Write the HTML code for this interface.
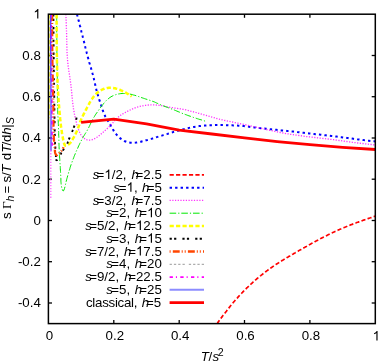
<!DOCTYPE html>
<html><head><meta charset="utf-8"><title>plot</title>
<style>html,body{margin:0;padding:0;background:#fff;}body{width:390px;height:364px;overflow:hidden;font-family:"Liberation Sans",sans-serif;}</style></head>
<body>
<svg width="390" height="364" viewBox="0 0 390 364" style="display:block;will-change:transform">
<rect width="390" height="364" fill="#fff"/>
<clipPath id="c"><rect x="48.4" y="14.2" width="326.90000000000003" height="309.40000000000003"/></clipPath>
<g stroke="#000" stroke-width="1.3">
<line x1="113.8" y1="323.6" x2="113.8" y2="320.0"/>
<line x1="113.8" y1="14.2" x2="113.8" y2="17.8"/>
<line x1="179.2" y1="323.6" x2="179.2" y2="320.0"/>
<line x1="179.2" y1="14.2" x2="179.2" y2="17.8"/>
<line x1="244.5" y1="323.6" x2="244.5" y2="320.0"/>
<line x1="244.5" y1="14.2" x2="244.5" y2="17.8"/>
<line x1="309.9" y1="323.6" x2="309.9" y2="320.0"/>
<line x1="309.9" y1="14.2" x2="309.9" y2="17.8"/>
<line x1="48.4" y1="303.0" x2="52.0" y2="303.0"/>
<line x1="375.3" y1="303.0" x2="371.7" y2="303.0"/>
<line x1="48.4" y1="261.7" x2="52.0" y2="261.7"/>
<line x1="375.3" y1="261.7" x2="371.7" y2="261.7"/>
<line x1="48.4" y1="220.5" x2="52.0" y2="220.5"/>
<line x1="375.3" y1="220.5" x2="371.7" y2="220.5"/>
<line x1="48.4" y1="179.2" x2="52.0" y2="179.2"/>
<line x1="375.3" y1="179.2" x2="371.7" y2="179.2"/>
<line x1="48.4" y1="138.0" x2="52.0" y2="138.0"/>
<line x1="375.3" y1="138.0" x2="371.7" y2="138.0"/>
<line x1="48.4" y1="96.7" x2="52.0" y2="96.7"/>
<line x1="375.3" y1="96.7" x2="371.7" y2="96.7"/>
<line x1="48.4" y1="55.5" x2="52.0" y2="55.5"/>
<line x1="375.3" y1="55.5" x2="371.7" y2="55.5"/>
</g>
<g clip-path="url(#c)" fill="none" stroke-linecap="butt" stroke-linejoin="round">
<path d="M217.0,323.7 L217.4,323.2 L217.8,322.6 L218.2,322.1 L218.5,321.6 L218.9,321.1 L219.3,320.5 L219.7,320.0 L220.1,319.5 L220.5,319.0 L220.9,318.4 L221.3,317.9 L221.6,317.4 L222.0,316.9 L222.4,316.4 L222.8,315.8 L223.2,315.3 L223.6,314.8 L224.0,314.3 L224.4,313.7 L224.8,313.2 L225.2,312.7 L225.6,312.2 L226.0,311.7 L226.4,311.2 L226.8,310.6 L227.2,310.1 L227.6,309.6 L228.0,309.1 L228.4,308.6 L228.8,308.1 L229.2,307.6 L229.6,307.1 L230.0,306.5 L230.4,306.0 L230.8,305.5 L231.2,305.0 L231.6,304.5 L232.1,304.0 L232.5,303.5 L232.9,303.0 L233.3,302.5 L233.7,302.0 L234.1,301.5 L234.6,301.0 L235.0,300.5 L235.4,300.0 L235.9,299.6 L236.3,299.1 L236.7,298.6 L237.2,298.1 L237.6,297.6 L238.0,297.1 L238.5,296.6 L238.9,296.2 L239.3,295.7 L239.8,295.2 L240.2,294.7 L240.7,294.2 L241.1,293.8 L241.6,293.3 L242.0,292.8 L242.5,292.4 L242.9,291.9 L243.4,291.4 L243.8,291.0 L244.3,290.5 L244.8,290.0 L245.2,289.6 L245.7,289.1 L246.2,288.6 L246.6,288.2 L247.1,287.7 L247.6,287.3 L248.0,286.8 L248.5,286.4 L249.0,285.9 L249.4,285.5 L249.9,285.0 L250.4,284.6 L250.9,284.1 L251.4,283.7 L251.8,283.3 L252.3,282.8 L252.8,282.4 L253.3,281.9 L253.8,281.5 L254.3,281.1 L254.8,280.7 L255.3,280.2 L255.7,279.8 L256.2,279.4 L256.7,278.9 L257.2,278.5 L257.7,278.1 L258.2,277.7 L258.7,277.3 L259.2,276.8 L259.7,276.4 L260.2,276.0 L260.8,275.6 L261.3,275.2 L261.8,274.8 L262.3,274.4 L262.8,274.0 L263.3,273.6 L263.8,273.2 L264.3,272.8 L264.9,272.4 L265.4,272.0 L265.9,271.6 L266.4,271.2 L266.9,270.8 L267.5,270.4 L268.0,270.0 L268.5,269.6 L269.0,269.3 L269.6,268.9 L270.1,268.5 L270.6,268.1 L271.2,267.7 L271.7,267.4 L272.2,267.0 L272.8,266.6 L273.3,266.3 L273.9,265.9 L274.4,265.5 L274.9,265.2 L275.5,264.8 L276.0,264.4 L276.6,264.1 L277.1,263.7 L277.7,263.4 L278.2,263.0 L278.7,262.7 L279.3,262.3 L279.8,262.0 L280.4,261.6 L280.9,261.3 L281.5,260.9 L282.1,260.6 L282.6,260.2 L283.2,259.9 L283.7,259.5 L284.3,259.2 L284.8,258.9 L285.4,258.5 L285.9,258.2 L286.5,257.9 L287.1,257.5 L287.6,257.2 L288.2,256.9 L288.7,256.5 L289.3,256.2 L289.9,255.9 L290.4,255.5 L291.0,255.2 L291.6,254.9 L292.1,254.5 L292.7,254.2 L293.3,253.9 L293.8,253.6 L294.4,253.2 L295.0,252.9 L295.5,252.6 L296.1,252.3 L296.6,251.9 L297.2,251.6 L297.8,251.3 L298.3,251.0 L298.9,250.6 L299.5,250.3 L300.0,250.0 L300.6,249.7 L301.2,249.4 L301.7,249.0 L302.3,248.7 L302.9,248.4 L303.5,248.1 L304.0,247.7 L304.6,247.4 L305.2,247.1 L305.7,246.8 L306.3,246.5 L306.9,246.1 L307.4,245.8 L308.0,245.5 L308.6,245.2 L309.1,244.9 L309.7,244.5 L310.3,244.2 L310.8,243.9 L311.4,243.6 L312.0,243.3 L312.6,243.0 L313.1,242.7 L313.7,242.3 L314.3,242.0 L314.8,241.7 L315.4,241.4 L316.0,241.1 L316.6,240.8 L317.1,240.5 L317.7,240.2 L318.3,239.9 L318.9,239.6 L319.4,239.2 L320.0,238.9 L320.6,238.6 L321.2,238.3 L321.7,238.0 L322.3,237.7 L322.9,237.4 L323.5,237.1 L324.1,236.8 L324.6,236.5 L325.2,236.3 L325.8,236.0 L326.4,235.7 L327.0,235.4 L327.6,235.1 L328.1,234.8 L328.7,234.5 L329.3,234.2 L329.9,233.9 L330.5,233.7 L331.1,233.4 L331.7,233.1 L332.3,232.8 L332.8,232.5 L333.4,232.3 L334.0,232.0 L334.6,231.7 L335.2,231.4 L335.8,231.2 L336.4,230.9 L337.0,230.6 L337.6,230.4 L338.2,230.1 L338.8,229.8 L339.4,229.6 L340.0,229.3 L340.6,229.0 L341.2,228.8 L341.8,228.5 L342.4,228.3 L343.0,228.0 L343.6,227.8 L344.2,227.5 L344.8,227.3 L345.4,227.0 L346.0,226.8 L346.6,226.5 L347.2,226.3 L347.8,226.0 L348.4,225.8 L349.0,225.6 L349.6,225.3 L350.2,225.1 L350.8,224.8 L351.4,224.6 L352.0,224.4 L352.7,224.1 L353.3,223.9 L353.9,223.7 L354.5,223.5 L355.1,223.2 L355.7,223.0 L356.3,222.8 L356.9,222.5 L357.5,222.3 L358.2,222.1 L358.8,221.9 L359.4,221.7 L360.0,221.4 L360.6,221.2 L361.2,221.0 L361.8,220.8 L362.4,220.6 L363.1,220.3 L363.7,220.1 L364.3,219.9 L364.9,219.7 L365.5,219.5 L366.1,219.3 L366.8,219.1 L367.4,218.8 L368.0,218.6 L368.6,218.4 L369.2,218.2 L369.8,218.0 L370.5,217.8 L371.1,217.6 L371.7,217.4 L372.3,217.2 L372.9,216.9 L373.5,216.7 L374.2,216.5 L374.8,216.3 L375.4,216.1" stroke="#ff0000" stroke-width="1.7" stroke-dasharray="4.2 2.25"/>
<path d="M49.6,14.2 L49.6,14.5 L49.6,14.9 L49.6,15.2 L49.6,15.6 L49.6,15.9 L49.6,16.3 L49.6,16.6 L49.6,17.0 L49.6,17.3 L49.6,17.7 L49.6,18.0 L49.6,18.4 L49.6,18.7 L49.6,19.1 L49.6,19.4 L49.6,19.8 L49.6,20.1 L49.6,20.5 L49.6,20.8 L49.6,21.2 L49.6,21.5 L49.6,21.9 L49.6,22.2 L49.6,22.5 L49.6,22.9 L49.6,23.2 L49.6,23.6 L49.6,23.9 L49.6,24.3 L49.6,24.6 L49.6,25.0 L49.6,25.3 L49.6,25.7 L49.6,26.0 L49.6,26.4 L49.6,26.7 L49.6,27.1 L49.6,27.4 L49.6,27.8 L49.6,28.1 L49.6,28.5 L49.6,28.8 L49.6,29.2 L49.6,29.5 L49.6,29.9 L49.6,30.2 L49.6,30.5 L49.6,30.9 L49.6,31.2 L49.6,31.6 L49.6,31.9 L49.6,32.3 L49.6,32.6 L49.6,33.0 L49.6,33.3 L49.6,33.7 L49.6,34.0 L49.6,34.4 L49.6,34.7 L49.6,35.1 L49.6,35.4 L49.6,35.8 L49.6,36.1 L49.6,36.5 L49.6,36.8 L49.6,37.2 L49.6,37.5 L49.6,37.9 L49.6,38.2 L49.6,38.5 L49.6,38.9 L49.6,39.2 L49.6,39.6 L49.6,39.9 L49.6,40.3 L49.6,40.6 L49.6,41.0 L49.6,41.3 L49.6,41.7 L49.6,42.0 L49.6,42.4 L49.6,42.7 L49.6,43.1 L49.6,43.4 L49.6,43.8 L49.6,44.1 L49.6,44.5 L49.6,44.8 L49.6,45.2 L49.6,45.5 L49.6,45.9 L49.6,46.2 L49.6,46.5 L49.6,46.9 L49.6,47.2 L49.6,47.6 L49.6,47.9 L49.6,48.3 L49.6,48.6 L49.6,49.0 L49.6,49.3 L49.6,49.7 L49.6,50.0 L49.6,50.4 L49.6,50.7 L49.6,51.1 L49.6,51.4 L49.6,51.8 L49.6,52.1 L49.6,52.5 L49.6,52.8 L49.6,53.2 L49.6,53.5 L49.6,53.9 L49.6,54.2 L49.6,54.5 L49.6,54.9 L49.6,55.2 L49.6,55.6 L49.6,55.9 L49.6,56.3 L49.6,56.6 L49.6,57.0 L49.6,57.3 L49.6,57.7 L49.6,58.0 L49.6,58.4 L49.6,58.7 L49.6,59.1 L49.6,59.4 L49.6,59.8 L49.6,60.1 L49.6,60.5 L49.6,60.8 L49.6,61.2 L49.6,61.5 L49.6,61.9 L49.6,62.2 L49.6,62.5 L49.6,62.9 L49.6,63.2 L49.6,63.6 L49.6,63.9 L49.6,64.3 L49.6,64.6 L49.6,65.0 L49.6,65.3 L49.6,65.7 L49.6,66.0 L49.6,66.4 L49.6,66.7 L49.6,67.1 L49.6,67.4 L49.6,67.8 L49.6,68.1 L49.6,68.5 L49.6,68.8 L49.6,69.2 L49.6,69.5 L49.6,69.9 L49.6,70.2 L49.6,70.5 L49.6,70.9 L49.6,71.2 L49.6,71.6 L49.6,71.9 L49.6,72.3 L49.6,72.6 L49.6,73.0 L49.6,73.3 L49.6,73.7 L49.6,74.0 L49.6,74.4 L49.6,74.7 L49.6,75.1 L49.6,75.4 L49.6,75.8 L49.6,76.1 L49.6,76.5 L49.6,76.8 L49.6,77.2 L49.6,77.5 L49.6,77.9 L49.6,78.2 L49.6,78.5 L49.6,78.9 L49.6,79.2 L49.6,79.6 L49.6,79.9 L49.6,80.3 L49.6,80.6 L49.6,81.0 L49.6,81.3 L49.6,81.7 L49.6,82.0 L49.6,82.4 L49.6,82.7 L49.6,83.1 L49.6,83.4 L49.6,83.8 L49.6,84.1 L49.6,84.5 L49.6,84.8 L49.6,85.2 L49.6,85.5 L49.6,85.9 L49.6,86.2 L49.6,86.5 L49.6,86.9 L49.6,87.2 L49.6,87.6 L49.6,87.9 L49.6,88.3 L49.6,88.6 L49.6,89.0 L49.6,89.3 L49.6,89.7 L49.6,90.0 L49.6,90.4 L49.6,90.7 L49.6,91.1 L49.6,91.4 L49.6,91.8 L49.6,92.1 L49.6,92.5 L49.6,92.8 L49.6,93.2 L49.6,93.5 L49.6,93.9 L49.6,94.2 L49.6,94.5 L49.6,94.9 L49.6,95.2 L49.6,95.6 L49.6,95.9 L49.6,96.3 L49.6,96.6 L49.6,97.0 L49.6,97.3 L49.6,97.7 L49.6,98.0 L49.6,98.4 L49.6,98.7 L49.6,99.1 L49.6,99.4 L49.6,99.8 L49.6,100.1 L49.6,100.5 L49.6,100.8 L49.6,101.2 L49.6,101.5 L49.6,101.9 L49.6,102.2 L49.6,102.5 L49.6,102.9 L49.6,103.2 L49.6,103.6 L49.6,103.9 L49.6,104.3 L49.6,104.6 L49.6,105.0 L49.6,105.3 L49.6,105.7 L49.6,106.0 L49.6,106.4 L49.6,106.7 L49.6,107.1 L49.6,107.4 L49.6,107.8 L49.6,108.1 L49.6,108.5 L49.6,108.8 L49.6,109.2 L49.6,109.5 L49.6,109.9 L49.6,110.2 L49.6,110.5 L49.6,110.9 L49.6,111.2 L49.6,111.6 L49.6,111.9 L49.6,112.3 L49.6,112.6 L49.6,113.0 L49.6,113.3 L49.6,113.7 L49.6,114.0 L49.6,114.4 L49.6,114.7 L49.6,115.1 L49.6,115.4 L49.6,115.8 L49.6,116.1 L49.6,116.5 L49.6,116.8 L49.6,117.2 L49.6,117.5 L49.6,117.9 L49.6,118.2" stroke="#ffff00" stroke-width="1.0" stroke-dasharray="4.2 2.25"/>
<path d="M77.0,14.2 L77.3,15.5 L77.7,16.7 L78.0,18.0 L78.3,19.3 L78.6,20.6 L79.0,21.8 L79.3,23.1 L79.6,24.4 L79.9,25.6 L80.3,26.9 L80.6,28.2 L80.9,29.4 L81.2,30.7 L81.5,32.0 L81.9,33.3 L82.2,34.5 L82.5,35.8 L82.8,37.1 L83.1,38.4 L83.4,39.6 L83.8,40.9 L84.1,42.2 L84.4,43.4 L84.7,44.7 L85.0,46.0 L85.3,47.3 L85.7,48.5 L86.0,49.8 L86.3,51.1 L86.6,52.4 L86.9,53.6 L87.3,54.9 L87.6,56.2 L87.9,57.4 L88.3,58.7 L88.6,60.0 L89.0,61.2 L89.3,62.5 L89.7,63.7 L90.1,65.0 L90.4,66.3 L90.8,67.5 L91.2,68.8 L91.5,70.0 L91.9,71.3 L92.3,72.6 L92.6,73.8 L93.0,75.1 L93.3,76.4 L93.6,77.6 L93.9,78.9 L94.2,80.2 L94.5,81.5 L94.8,82.7 L95.1,84.0 L95.3,85.3 L95.6,86.6 L95.9,87.9 L96.2,89.1 L96.5,90.4 L96.9,91.7 L97.2,92.9 L97.6,94.2 L98.0,95.5 L98.3,96.7 L98.7,98.0 L99.1,99.2 L99.5,100.5 L100.0,101.7 L100.4,103.0 L100.8,104.2 L101.2,105.5 L101.6,106.7 L102.0,108.0 L102.4,109.2 L102.8,110.5 L103.3,111.7 L103.8,112.9 L104.3,114.1 L104.8,115.3 L105.3,116.5 L105.9,117.7 L106.6,118.8 L107.3,119.9 L108.0,121.0 L108.7,122.1 L109.4,123.2 L110.1,124.4 L110.8,125.5 L111.4,126.6 L112.1,127.8 L112.7,128.9 L113.3,130.1 L113.9,131.2 L114.7,132.3 L115.5,133.4 L116.3,134.3 L117.2,135.3 L118.1,136.2 L119.1,137.2 L120.0,138.1 L121.0,138.9 L122.1,139.7 L123.2,140.4 L124.3,141.0 L125.6,141.5 L126.8,142.0 L128.1,142.3 L129.4,142.6 L130.7,142.7 L132.0,142.8 L133.3,142.8 L134.6,142.7 L135.9,142.6 L137.2,142.4 L138.5,142.2 L139.8,141.9 L141.1,141.7 L142.3,141.3 L143.6,141.0 L144.9,140.7 L146.1,140.3 L147.4,140.0 L148.7,139.6 L149.9,139.2 L151.2,138.9 L152.5,138.5 L153.7,138.1 L155.0,137.7 L156.2,137.3 L157.5,136.9 L158.7,136.5 L160.0,136.2 L161.2,135.8 L162.5,135.4 L163.7,135.0 L165.0,134.7 L166.2,134.3 L167.5,133.9 L168.7,133.5 L170.0,133.1 L171.2,132.7 L172.5,132.3 L173.7,131.9 L175.0,131.5 L176.3,131.2 L177.5,130.8 L178.8,130.5 L180.1,130.1 L181.3,129.8 L182.6,129.4 L183.9,129.1 L185.1,128.8 L186.4,128.5 L187.7,128.2 L189.0,127.9 L190.3,127.6 L191.5,127.4 L192.8,127.1 L194.1,126.9 L195.4,126.7 L196.7,126.5 L198.0,126.3 L199.3,126.1 L200.6,126.0 L201.9,125.8 L203.2,125.7 L204.5,125.6 L205.8,125.5 L207.1,125.4 L208.5,125.3 L209.8,125.3 L211.1,125.2 L212.4,125.2 L213.7,125.2 L215.0,125.1 L216.3,125.1 L217.6,125.1 L218.9,125.1 L220.3,125.1 L221.6,125.1 L222.9,125.1 L224.2,125.1 L225.5,125.2 L226.8,125.2 L228.1,125.2 L229.4,125.3 L230.8,125.3 L232.1,125.3 L233.4,125.4 L234.7,125.4 L236.0,125.5 L237.3,125.6 L238.6,125.7 L239.9,125.8 L241.2,125.9 L242.5,126.0 L243.8,126.1 L245.1,126.3 L246.4,126.4 L247.7,126.6 L249.0,126.7 L250.4,126.9 L251.7,127.1 L253.0,127.2 L254.3,127.4 L255.6,127.6 L256.9,127.7 L258.2,127.9 L259.5,128.1 L260.8,128.2 L262.1,128.4 L263.4,128.5 L264.7,128.6 L266.0,128.8 L267.3,128.9 L268.6,129.0 L269.9,129.2 L271.2,129.3 L272.5,129.4 L273.8,129.5 L275.1,129.7 L276.4,129.8 L277.7,129.9 L279.0,130.1 L280.3,130.2 L281.6,130.4 L282.9,130.5 L284.2,130.6 L285.5,130.8 L286.8,130.9 L288.2,131.1 L289.5,131.2 L290.8,131.4 L292.1,131.5 L293.4,131.6 L294.7,131.8 L296.0,131.9 L297.3,132.1 L298.6,132.2 L299.9,132.4 L301.2,132.5 L302.5,132.7 L303.8,132.8 L305.1,133.0 L306.4,133.1 L307.7,133.3 L309.0,133.4 L310.3,133.6 L311.6,133.7 L312.9,133.9 L314.2,134.0 L315.5,134.2 L316.8,134.3 L318.1,134.5 L319.4,134.6 L320.7,134.7 L322.0,134.9 L323.3,135.0 L324.6,135.2 L325.9,135.3 L327.2,135.5 L328.6,135.7 L329.9,135.8 L331.2,136.0 L332.5,136.1 L333.8,136.3 L335.1,136.4 L336.4,136.6 L337.7,136.8 L339.0,136.9 L340.3,137.1 L341.6,137.2 L342.9,137.4 L344.2,137.6 L345.5,137.8 L346.8,137.9 L348.1,138.1 L349.4,138.3 L350.7,138.4 L352.0,138.6 L353.3,138.8 L354.6,139.0 L355.9,139.1 L357.2,139.3 L358.5,139.4 L359.8,139.6 L361.1,139.8 L362.4,139.9 L363.7,140.1 L365.0,140.2 L366.3,140.4 L367.6,140.6 L368.9,140.7 L370.2,140.9 L371.5,141.0 L372.8,141.2 L374.1,141.3 L375.4,141.5" stroke="#0000ff" stroke-width="2.0" stroke-dasharray="2.4 3.1"/>
<path d="M65.9,14.2 L66.0,15.6 L66.0,17.1 L66.1,18.5 L66.1,20.0 L66.2,21.4 L66.2,22.9 L66.3,24.3 L66.3,25.8 L66.4,27.2 L66.4,28.7 L66.5,30.1 L66.5,31.6 L66.6,33.0 L66.6,34.5 L66.6,35.9 L66.7,37.4 L66.7,38.9 L66.7,40.3 L66.8,41.8 L66.8,43.2 L66.8,44.7 L66.9,46.1 L66.9,47.6 L66.9,49.0 L67.0,50.5 L67.0,51.9 L67.1,53.4 L67.2,54.8 L67.3,56.3 L67.4,57.7 L67.5,59.2 L67.6,60.6 L67.7,62.0 L67.9,63.5 L68.0,64.9 L68.2,66.4 L68.4,67.8 L68.6,69.2 L68.8,70.7 L69.0,72.1 L69.3,73.5 L69.5,75.0 L69.7,76.4 L69.9,77.8 L70.1,79.3 L70.3,80.7 L70.5,82.2 L70.7,83.6 L70.9,85.0 L71.1,86.5 L71.2,87.9 L71.4,89.4 L71.5,90.8 L71.7,92.3 L71.8,93.7 L71.9,95.1 L72.1,96.6 L72.2,98.0 L72.4,99.5 L72.5,100.9 L72.7,102.4 L72.8,103.8 L73.0,105.2 L73.2,106.7 L73.4,108.1 L73.6,109.5 L73.9,111.0 L74.2,112.4 L74.4,113.8 L74.7,115.2 L75.0,116.7 L75.3,118.1 L75.6,119.5 L76.0,120.9 L76.3,122.3 L76.7,123.7 L77.0,125.2 L77.4,126.5 L77.9,127.9 L78.4,129.3 L78.9,130.7 L79.5,132.0 L80.1,133.3 L80.8,134.6 L81.7,135.8 L82.6,136.9 L83.7,137.9 L84.8,138.8 L86.1,139.6 L87.5,140.0 L88.9,140.2 L90.4,140.1 L91.8,139.8 L93.2,139.3 L94.5,138.7 L95.8,138.0 L97.0,137.2 L98.2,136.4 L99.3,135.5 L100.5,134.6 L101.6,133.6 L102.6,132.6 L103.7,131.7 L104.8,130.7 L105.9,129.7 L107.0,128.8 L108.1,127.8 L109.1,126.8 L110.2,125.8 L111.2,124.8 L112.2,123.7 L113.1,122.6 L114.1,121.5 L115.1,120.4 L116.0,119.4 L117.1,118.3 L118.1,117.3 L119.2,116.4 L120.3,115.5 L121.5,114.7 L122.8,113.9 L124.0,113.2 L125.3,112.5 L126.6,111.8 L127.9,111.1 L129.2,110.5 L130.5,109.8 L131.8,109.2 L133.1,108.7 L134.5,108.1 L135.8,107.6 L137.2,107.2 L138.6,106.8 L140.0,106.4 L141.4,106.1 L142.9,105.8 L144.3,105.5 L145.7,105.3 L147.2,105.2 L148.6,105.0 L150.1,104.9 L151.5,104.9 L153.0,104.9 L154.4,104.9 L155.9,105.0 L157.3,105.1 L158.8,105.3 L160.2,105.5 L161.6,105.7 L163.1,105.9 L164.5,106.2 L165.9,106.5 L167.4,106.8 L168.8,107.0 L170.2,107.3 L171.6,107.5 L173.1,107.7 L174.5,108.0 L175.9,108.2 L177.4,108.4 L178.8,108.6 L180.2,108.8 L181.7,109.1 L183.1,109.4 L184.5,109.6 L185.9,109.9 L187.3,110.3 L188.8,110.6 L190.2,111.0 L191.6,111.3 L193.0,111.7 L194.4,112.1 L195.8,112.5 L197.2,112.9 L198.6,113.3 L200.0,113.7 L201.4,114.1 L202.8,114.5 L204.2,114.9 L205.5,115.3 L206.9,115.7 L208.3,116.1 L209.7,116.5 L211.1,116.9 L212.5,117.3 L213.9,117.7 L215.3,118.1 L216.7,118.5 L218.1,118.8 L219.5,119.2 L220.9,119.5 L222.3,119.9 L223.8,120.2 L225.2,120.5 L226.6,120.8 L228.0,121.1 L229.4,121.4 L230.8,121.7 L232.3,122.0 L233.7,122.3 L235.1,122.6 L236.5,122.9 L237.9,123.2 L239.4,123.5 L240.8,123.8 L242.2,124.1 L243.6,124.4 L245.0,124.7 L246.5,125.0 L247.9,125.3 L249.3,125.7 L250.7,126.0 L252.1,126.3 L253.5,126.6 L255.0,126.9 L256.4,127.2 L257.8,127.6 L259.2,127.9 L260.6,128.2 L262.0,128.5 L263.4,128.8 L264.9,129.2 L266.3,129.5 L267.7,129.8 L269.1,130.1 L270.5,130.4 L271.9,130.7 L273.4,131.0 L274.8,131.4 L276.2,131.7 L277.6,131.9 L279.0,132.2 L280.5,132.5 L281.9,132.8 L283.3,133.0 L284.7,133.3 L286.2,133.6 L287.6,133.8 L289.0,134.0 L290.5,134.3 L291.9,134.5 L293.3,134.7 L294.8,134.9 L296.2,135.1 L297.6,135.3 L299.1,135.5 L300.5,135.7 L302.0,135.9 L303.4,136.1 L304.8,136.3 L306.3,136.5 L307.7,136.6 L309.2,136.8 L310.6,137.0 L312.0,137.2 L313.5,137.3 L314.9,137.5 L316.4,137.7 L317.8,137.8 L319.3,138.0 L320.7,138.2 L322.1,138.3 L323.6,138.5 L325.0,138.7 L326.5,138.8 L327.9,139.0 L329.3,139.2 L330.8,139.4 L332.2,139.5 L333.7,139.7 L335.1,139.9 L336.5,140.1 L338.0,140.3 L339.4,140.5 L340.9,140.7 L342.3,140.9 L343.7,141.1 L345.2,141.3 L346.6,141.5 L348.0,141.7 L349.5,141.9 L350.9,142.1 L352.3,142.3 L353.8,142.5 L355.2,142.6 L356.7,142.8 L358.1,143.0 L359.5,143.2 L361.0,143.4 L362.4,143.5 L363.9,143.7 L365.3,143.9 L366.7,144.0 L368.2,144.2 L369.6,144.4 L371.1,144.5 L372.5,144.7 L374.0,144.8 L375.4,145.0" stroke="#ff30ff" stroke-width="1.3" stroke-dasharray="1.2 1.5"/>
<path d="M56.7,14.2 L56.7,15.5 L56.7,16.8 L56.7,18.1 L56.7,19.3 L56.7,20.6 L56.7,21.9 L56.7,23.2 L56.7,24.5 L56.7,25.8 L56.7,27.1 L56.7,28.4 L56.7,29.6 L56.7,30.9 L56.7,32.2 L56.7,33.5 L56.8,34.8 L56.8,36.1 L56.8,37.4 L56.8,38.6 L56.8,39.9 L56.8,41.2 L56.8,42.5 L56.8,43.8 L56.8,45.1 L56.8,46.4 L56.9,47.6 L56.9,48.9 L56.9,50.2 L56.9,51.5 L56.9,52.8 L57.0,54.1 L57.0,55.4 L57.0,56.6 L57.0,57.9 L57.1,59.2 L57.1,60.5 L57.1,61.8 L57.1,63.1 L57.1,64.4 L57.2,65.6 L57.2,66.9 L57.2,68.2 L57.2,69.5 L57.2,70.8 L57.3,72.1 L57.3,73.4 L57.3,74.7 L57.3,75.9 L57.3,77.2 L57.3,78.5 L57.3,79.8 L57.3,81.1 L57.3,82.4 L57.3,83.7 L57.4,84.9 L57.4,86.2 L57.4,87.5 L57.4,88.8 L57.4,90.1 L57.4,91.4 L57.4,92.7 L57.4,94.0 L57.4,95.2 L57.4,96.5 L57.4,97.8 L57.4,99.1 L57.5,100.4 L57.5,101.7 L57.5,103.0 L57.5,104.2 L57.6,105.5 L57.6,106.8 L57.6,108.1 L57.7,109.4 L57.7,110.7 L57.8,112.0 L57.8,113.2 L57.9,114.5 L57.9,115.8 L58.0,117.1 L58.1,118.4 L58.1,119.7 L58.2,120.9 L58.3,122.2 L58.3,123.5 L58.4,124.8 L58.4,126.1 L58.5,127.4 L58.5,128.7 L58.6,129.9 L58.6,131.2 L58.7,132.5 L58.7,133.8 L58.7,135.1 L58.8,136.4 L58.8,137.7 L58.8,139.0 L58.9,140.2 L58.9,141.5 L58.9,142.8 L59.0,144.1 L59.0,145.4 L59.1,146.6 L59.1,147.9 L59.2,149.2 L59.2,150.5 L59.3,151.7 L59.4,153.0 L59.4,154.3 L59.5,155.6 L59.6,156.9 L59.7,158.2 L59.8,159.5 L59.8,160.8 L59.9,162.1 L60.0,163.5 L60.1,164.8 L60.2,166.1 L60.3,167.5 L60.3,168.8 L60.4,170.1 L60.5,171.4 L60.6,172.7 L60.6,174.0 L60.7,175.3 L60.8,176.5 L60.8,177.7 L60.9,178.9 L60.9,180.1 L60.9,181.2 L61.0,182.3 L61.1,183.5 L61.2,184.8 L61.4,186.1 L61.7,187.6 L62.2,189.2 L62.7,190.6 L63.3,191.0 L63.9,190.1 L64.5,188.5 L64.9,187.0 L65.3,185.7 L65.5,184.5 L65.8,183.3 L66.0,182.2 L66.3,181.0 L66.6,179.8 L66.9,178.6 L67.3,177.3 L67.6,176.0 L68.0,174.7 L68.4,173.5 L68.7,172.2 L69.1,171.0 L69.5,169.8 L69.9,168.5 L70.2,167.3 L70.6,166.1 L71.0,164.9 L71.4,163.7 L71.9,162.5 L72.3,161.3 L72.7,160.1 L73.2,158.9 L73.7,157.7 L74.1,156.5 L74.6,155.3 L75.1,154.1 L75.6,152.9 L76.1,151.7 L76.6,150.5 L77.2,149.4 L77.7,148.2 L78.2,147.0 L78.7,145.8 L79.3,144.7 L79.8,143.5 L80.4,142.3 L81.0,141.2 L81.6,140.0 L82.2,138.9 L82.8,137.8 L83.4,136.7 L84.1,135.6 L84.7,134.5 L85.4,133.4 L86.1,132.3 L86.8,131.2 L87.4,130.1 L88.0,128.9 L88.6,127.8 L89.2,126.6 L89.7,125.5 L90.3,124.3 L90.8,123.1 L91.4,122.0 L92.0,120.8 L92.5,119.7 L93.2,118.6 L93.8,117.4 L94.5,116.4 L95.1,115.3 L95.8,114.2 L96.6,113.1 L97.3,112.1 L98.0,111.0 L98.8,110.0 L99.5,108.9 L100.3,107.9 L101.1,106.8 L101.9,105.8 L102.7,104.8 L103.5,103.7 L104.3,102.7 L105.1,101.8 L106.0,100.8 L106.9,99.9 L107.9,99.1 L108.9,98.3 L109.9,97.5 L111.0,96.8 L112.1,96.2 L113.3,95.6 L114.5,95.1 L115.7,94.7 L117.0,94.3 L118.2,94.0 L119.5,93.8 L120.8,93.6 L122.1,93.5 L123.4,93.5 L124.6,93.5 L125.9,93.6 L127.2,93.7 L128.5,93.9 L129.8,94.1 L131.0,94.3 L132.3,94.6 L133.5,95.0 L134.8,95.3 L136.0,95.7 L137.2,96.1 L138.4,96.5 L139.7,96.9 L140.9,97.4 L142.1,97.8 L143.3,98.2 L144.5,98.6 L145.7,99.0 L147.0,99.4 L148.2,99.8 L149.4,100.2 L150.6,100.6 L151.9,101.0 L153.1,101.5 L154.3,101.9 L155.4,102.4 L156.6,103.0 L157.8,103.5 L158.9,104.1 L160.1,104.6 L161.3,105.1 L162.5,105.6 L163.7,106.0 L164.9,106.5 L166.1,106.9 L167.3,107.3 L168.5,107.8 L169.7,108.2 L170.9,108.7 L172.1,109.2 L173.3,109.6 L174.5,110.1 L175.7,110.6 L176.9,111.1 L178.1,111.6 L179.3,112.1 L180.5,112.6 L181.7,113.1 L182.9,113.6 L184.1,114.0 L185.3,114.5 L186.5,114.9 L187.7,115.4 L188.9,115.8 L190.1,116.2 L191.3,116.6 L192.5,117.1 L193.7,117.5 L195.0,117.9 L196.2,118.3 L197.4,118.7 L198.6,119.1 L199.9,119.5 L201.1,119.8 L202.3,120.2 L203.5,120.6 L204.8,121.0 L206.0,121.4" stroke="#00e800" stroke-width="1.0" stroke-dasharray="6.6 2 1.2 1.9"/>
<path d="M56.6,14.2 L56.6,15.0 L56.6,15.8 L56.6,16.5 L56.6,17.3 L56.6,18.1 L56.6,18.9 L56.6,19.7 L56.6,20.4 L56.6,21.2 L56.6,22.0 L56.6,22.8 L56.6,23.5 L56.6,24.3 L56.6,25.1 L56.6,25.9 L56.6,26.7 L56.6,27.4 L56.6,28.2 L56.7,29.0 L56.7,29.8 L56.7,30.6 L56.7,31.3 L56.7,32.1 L56.7,32.9 L56.7,33.7 L56.7,34.4 L56.7,35.2 L56.7,36.0 L56.7,36.8 L56.7,37.6 L56.7,38.3 L56.7,39.1 L56.7,39.9 L56.7,40.7 L56.7,41.5 L56.7,42.2 L56.7,43.0 L56.7,43.8 L56.7,44.6 L56.8,45.3 L56.8,46.1 L56.8,46.9 L56.8,47.7 L56.8,48.5 L56.8,49.2 L56.8,50.0 L56.8,50.8 L56.8,51.6 L56.8,52.4 L56.8,53.1 L56.8,53.9 L56.9,54.7 L56.9,55.5 L56.9,56.2 L56.9,57.0 L56.9,57.8 L56.9,58.6 L56.9,59.4 L56.9,60.1 L56.9,60.9 L57.0,61.7 L57.0,62.5 L57.0,63.3 L57.0,64.0 L57.0,64.8 L57.0,65.6 L57.1,66.4 L57.1,67.1 L57.1,67.9 L57.1,68.7 L57.1,69.5 L57.1,70.3 L57.2,71.0 L57.2,71.8 L57.2,72.6 L57.2,73.4 L57.3,74.1 L57.3,74.9 L57.3,75.7 L57.3,76.5 L57.4,77.3 L57.4,78.0 L57.4,78.8 L57.5,79.6 L57.5,80.4 L57.5,81.2 L57.5,81.9 L57.6,82.7 L57.6,83.5 L57.7,84.3 L57.7,85.0 L57.7,85.8 L57.8,86.6 L57.8,87.4 L57.9,88.2 L57.9,88.9 L57.9,89.7 L58.0,90.5 L58.0,91.3 L58.1,92.1 L58.1,92.8 L58.2,93.6 L58.2,94.4 L58.3,95.2 L58.3,96.0 L58.4,96.7 L58.4,97.5 L58.5,98.3 L58.5,99.1 L58.6,99.8 L58.6,100.6 L58.7,101.4 L58.8,102.2 L58.8,102.9 L58.9,103.7 L58.9,104.5 L59.0,105.3 L59.1,106.0 L59.1,106.8 L59.2,107.6 L59.2,108.4 L59.3,109.1 L59.4,109.9 L59.4,110.7 L59.5,111.5 L59.6,112.2 L59.6,113.0 L59.7,113.8 L59.8,114.5 L59.8,115.3 L59.9,116.1 L60.0,116.9 L60.1,117.6 L60.1,118.4 L60.2,119.2 L60.3,119.9 L60.4,120.7 L60.5,121.5 L60.6,122.3 L60.6,123.1 L60.7,123.8 L60.8,124.6 L60.9,125.4 L61.0,126.2 L61.1,127.0 L61.2,127.8 L61.3,128.6 L61.5,129.3 L61.6,130.1 L61.7,130.9 L61.8,131.7 L61.9,132.5 L62.0,133.2 L62.2,134.0 L62.3,134.8 L62.4,135.5 L62.5,136.2 L62.7,137.0 L62.8,137.7 L62.9,138.4 L63.1,139.1 L63.2,139.9 L63.4,140.6 L63.5,141.4 L63.7,142.2 L64.0,143.0 L64.2,143.9 L64.5,144.7 L64.9,145.4 L65.5,145.7 L66.2,145.7 L67.0,145.4 L67.7,145.0 L68.4,144.6 L69.0,144.1 L69.6,143.6 L70.1,143.1 L70.6,142.5 L71.1,141.9 L71.5,141.2 L71.9,140.5 L72.3,139.9 L72.7,139.2 L73.1,138.5 L73.5,137.8 L73.9,137.1 L74.3,136.4 L74.6,135.7 L75.0,135.0 L75.3,134.3 L75.7,133.6 L76.0,132.9 L76.3,132.2 L76.7,131.5 L77.0,130.8 L77.3,130.1 L77.6,129.4 L77.9,128.6 L78.1,127.9 L78.4,127.2 L78.7,126.5 L78.9,125.7 L79.2,125.0 L79.4,124.2 L79.6,123.5 L79.9,122.8 L80.1,122.0 L80.4,121.3 L80.7,120.6 L81.0,119.9 L81.3,119.1 L81.6,118.4 L81.9,117.7 L82.3,117.0 L82.6,116.3 L83.0,115.6 L83.3,114.9 L83.7,114.2 L84.0,113.5 L84.4,112.9 L84.8,112.2 L85.1,111.5 L85.5,110.8 L85.8,110.1 L86.2,109.4 L86.5,108.7 L86.9,108.0 L87.2,107.3 L87.6,106.6 L88.0,105.9 L88.3,105.2 L88.7,104.5 L89.1,103.9 L89.4,103.2 L89.8,102.5 L90.2,101.8 L90.6,101.2 L91.0,100.5 L91.4,99.8 L91.9,99.2 L92.3,98.5 L92.7,97.9 L93.2,97.2 L93.7,96.6 L94.2,96.0 L94.7,95.4 L95.2,94.8 L95.7,94.3 L96.3,93.7 L96.8,93.2 L97.4,92.7 L98.0,92.2 L98.6,91.7 L99.3,91.2 L99.9,90.8 L100.6,90.4 L101.3,90.0 L102.0,89.7 L102.7,89.3 L103.4,89.0 L104.2,88.8 L104.9,88.5 L105.7,88.3 L106.4,88.2 L107.2,88.0 L108.0,87.9 L108.8,87.8 L109.5,87.8 L110.3,87.8 L111.1,87.8 L111.9,87.8 L112.7,87.9 L113.4,88.0 L114.2,88.2 L115.0,88.3 L115.7,88.5 L116.5,88.7 L117.2,88.9 L118.0,89.2 L118.7,89.4 L119.5,89.7 L120.2,90.0 L120.9,90.3 L121.6,90.6 L122.3,90.9 L123.0,91.3 L123.7,91.6 L124.4,92.0 L125.1,92.4 L125.8,92.7 L126.5,93.1 L127.1,93.5 L127.8,93.9 L128.5,94.3 L129.1,94.8 L129.8,95.2 L130.4,95.6 L131.1,96.1 L131.7,96.5" stroke="#ffff00" stroke-width="2.5" stroke-dasharray="4.2 2.25"/>
<path d="M53.4,14.2 L53.4,14.8 L53.4,15.5 L53.4,16.1 L53.4,16.8 L53.4,17.4 L53.4,18.1 L53.4,18.7 L53.4,19.4 L53.4,20.0 L53.4,20.7 L53.4,21.3 L53.4,22.0 L53.4,22.6 L53.4,23.3 L53.4,23.9 L53.5,24.6 L53.5,25.2 L53.5,25.9 L53.5,26.5 L53.5,27.2 L53.5,27.8 L53.5,28.5 L53.5,29.1 L53.5,29.7 L53.5,30.4 L53.5,31.0 L53.5,31.7 L53.5,32.3 L53.5,33.0 L53.5,33.6 L53.5,34.3 L53.5,34.9 L53.5,35.6 L53.5,36.2 L53.5,36.9 L53.5,37.5 L53.5,38.2 L53.5,38.8 L53.5,39.5 L53.5,40.1 L53.5,40.8 L53.5,41.4 L53.6,42.1 L53.6,42.7 L53.6,43.4 L53.6,44.0 L53.6,44.7 L53.6,45.3 L53.6,46.0 L53.6,46.6 L53.6,47.3 L53.6,47.9 L53.6,48.6 L53.6,49.2 L53.6,49.9 L53.6,50.5 L53.6,51.2 L53.6,51.8 L53.6,52.5 L53.6,53.1 L53.6,53.8 L53.6,54.4 L53.7,55.1 L53.7,55.7 L53.7,56.4 L53.7,57.0 L53.7,57.7 L53.7,58.3 L53.7,59.0 L53.7,59.6 L53.7,60.3 L53.7,60.9 L53.7,61.6 L53.7,62.2 L53.7,62.9 L53.7,63.5 L53.7,64.2 L53.7,64.8 L53.8,65.5 L53.8,66.1 L53.8,66.8 L53.8,67.5 L53.8,68.1 L53.8,68.8 L53.8,69.4 L53.8,70.1 L53.8,70.7 L53.8,71.4 L53.8,72.0 L53.8,72.7 L53.8,73.3 L53.9,74.0 L53.9,74.6 L53.9,75.3 L53.9,75.9 L53.9,76.6 L53.9,77.2 L53.9,77.9 L53.9,78.5 L53.9,79.2 L53.9,79.8 L53.9,80.5 L54.0,81.1 L54.0,81.8 L54.0,82.5 L54.0,83.1 L54.0,83.8 L54.0,84.4 L54.0,85.1 L54.0,85.7 L54.0,86.4 L54.0,87.0 L54.0,87.7 L54.1,88.3 L54.1,89.0 L54.1,89.6 L54.1,90.3 L54.1,90.9 L54.1,91.6 L54.1,92.2 L54.1,92.9 L54.1,93.5 L54.1,94.1 L54.2,94.8 L54.2,95.4 L54.2,96.1 L54.2,96.7 L54.2,97.4 L54.2,98.0 L54.2,98.7 L54.2,99.3 L54.2,100.0 L54.2,100.6 L54.3,101.3 L54.3,101.9 L54.3,102.5 L54.3,103.2 L54.3,103.8 L54.3,104.5 L54.3,105.1 L54.3,105.8 L54.3,106.4 L54.3,107.0 L54.4,107.7 L54.4,108.3 L54.4,109.0 L54.4,109.6 L54.4,110.2 L54.4,110.9 L54.4,111.5 L54.4,112.2 L54.4,112.8 L54.5,113.4 L54.5,114.1 L54.5,114.7 L54.5,115.4 L54.5,116.0 L54.5,116.6 L54.5,117.3 L54.5,117.9 L54.5,118.6 L54.5,119.2 L54.6,119.8 L54.6,120.5 L54.6,121.1 L54.6,121.8 L54.6,122.4 L54.6,123.1 L54.6,123.7 L54.6,124.4 L54.6,125.0 L54.6,125.7 L54.6,126.4 L54.7,127.0 L54.7,127.7 L54.7,128.4 L54.7,129.0 L54.7,129.7 L54.7,130.4 L54.7,131.0 L54.7,131.7 L54.7,132.4 L54.7,133.1 L54.7,133.8 L54.8,134.5 L54.8,135.1 L54.8,135.8 L54.8,136.5 L54.8,137.2 L54.8,137.8 L54.8,138.5 L54.9,139.2 L54.9,139.8 L54.9,140.5 L54.9,141.1 L54.9,141.8 L55.0,142.4 L55.0,143.1 L55.0,143.7 L55.1,144.3 L55.1,144.9 L55.2,145.5 L55.2,146.1 L55.3,146.7 L55.3,147.2 L55.4,147.8 L55.4,148.3 L55.5,148.9 L55.5,149.4 L55.6,150.0 L55.6,150.6 L55.7,151.2 L55.8,151.8 L55.8,152.4 L55.8,153.1 L55.9,153.9 L55.9,154.6 L55.9,155.4 L55.9,156.3 L55.9,157.3 L55.9,158.2 L56.0,159.0 L56.1,159.6 L56.3,160.1 L56.6,160.2 L57.1,160.0 L57.6,159.6 L58.2,159.0 L58.6,158.5 L59.0,158.0 L59.3,157.4 L59.6,156.9 L59.9,156.3 L60.1,155.7 L60.4,155.1 L60.6,154.5 L60.9,153.9 L61.1,153.3 L61.4,152.7 L61.8,152.2 L62.1,151.6 L62.5,151.1 L62.8,150.5 L63.2,150.0 L63.6,149.5 L64.0,149.0 L64.4,148.5 L64.8,147.9 L65.2,147.4 L65.6,146.9 L65.9,146.3 L66.2,145.8 L66.5,145.2 L66.8,144.6 L67.1,144.0 L67.3,143.4 L67.6,142.8 L67.8,142.2 L68.0,141.6 L68.3,141.0 L68.5,140.4 L68.7,139.8 L69.0,139.2 L69.2,138.6 L69.5,138.0 L69.7,137.4 L70.0,136.8 L70.2,136.2 L70.5,135.6 L70.7,135.0 L71.0,134.4 L71.2,133.8 L71.5,133.2 L71.7,132.6 L72.0,132.0 L72.2,131.4 L72.5,130.8 L72.7,130.2 L73.0,129.6 L73.2,129.0 L73.5,128.4 L73.7,127.8 L73.9,127.2 L74.1,126.6 L74.4,126.0 L74.6,125.4 L74.8,124.7 L75.0,124.1 L75.2,123.5 L75.3,122.9 L75.5,122.3 L75.7,121.6 L75.9,121.0 L76.0,120.4 L76.2,119.7 L76.3,119.1 L76.4,118.5 L76.6,117.8 L76.7,117.2" stroke="#000000" stroke-width="1.9" stroke-dasharray="2.2 2.3 2.2 6.1"/>
<path d="M52.1,14.2 L52.1,14.7 L52.1,15.2 L52.1,15.7 L52.1,16.2 L52.1,16.7 L52.1,17.3 L52.1,17.8 L52.1,18.3 L52.1,18.8 L52.1,19.3 L52.1,19.8 L52.1,20.3 L52.1,20.8 L52.1,21.3 L52.1,21.8 L52.1,22.3 L52.1,22.9 L52.1,23.4 L52.1,23.9 L52.1,24.4 L52.1,24.9 L52.1,25.4 L52.1,25.9 L52.1,26.4 L52.1,26.9 L52.1,27.4 L52.1,28.0 L52.1,28.5 L52.1,29.0 L52.1,29.5 L52.1,30.0 L52.1,30.5 L52.1,31.0 L52.1,31.5 L52.1,32.0 L52.1,32.5 L52.1,33.0 L52.1,33.6 L52.2,34.1 L52.2,34.6 L52.2,35.1 L52.2,35.6 L52.2,36.1 L52.2,36.6 L52.2,37.1 L52.2,37.6 L52.2,38.1 L52.2,38.6 L52.2,39.2 L52.2,39.7 L52.2,40.2 L52.2,40.7 L52.2,41.2 L52.2,41.7 L52.2,42.2 L52.2,42.7 L52.2,43.2 L52.2,43.7 L52.2,44.2 L52.2,44.8 L52.2,45.3 L52.2,45.8 L52.2,46.3 L52.2,46.8 L52.2,47.3 L52.2,47.8 L52.2,48.3 L52.3,48.8 L52.3,49.3 L52.3,49.8 L52.3,50.4 L52.3,50.9 L52.3,51.4 L52.3,51.9 L52.3,52.4 L52.3,52.9 L52.3,53.4 L52.3,53.9 L52.3,54.4 L52.3,54.9 L52.3,55.4 L52.3,56.0 L52.3,56.5 L52.4,57.0 L52.4,57.5 L52.4,58.0 L52.4,58.5 L52.4,59.0 L52.4,59.5 L52.4,60.0 L52.4,60.5 L52.4,61.0 L52.4,61.6 L52.4,62.1 L52.4,62.6 L52.4,63.1 L52.5,63.6 L52.5,64.1 L52.5,64.6 L52.5,65.1 L52.5,65.6 L52.5,66.1 L52.5,66.6 L52.5,67.2 L52.5,67.7 L52.5,68.2 L52.6,68.7 L52.6,69.2 L52.6,69.7 L52.6,70.2 L52.6,70.7 L52.6,71.2 L52.6,71.7 L52.6,72.2 L52.6,72.8 L52.7,73.3 L52.7,73.8 L52.7,74.3 L52.7,74.8 L52.7,75.3 L52.7,75.8 L52.7,76.3 L52.7,76.8 L52.7,77.3 L52.8,77.8 L52.8,78.4 L52.8,78.9 L52.8,79.4 L52.8,79.9 L52.8,80.4 L52.8,80.9 L52.8,81.4 L52.9,81.9 L52.9,82.4 L52.9,82.9 L52.9,83.4 L52.9,84.0 L52.9,84.5 L52.9,85.0 L52.9,85.5 L52.9,86.0 L53.0,86.5 L53.0,87.0 L53.0,87.5 L53.0,88.0 L53.0,88.5 L53.0,89.0 L53.0,89.6 L53.0,90.1 L53.1,90.6 L53.1,91.1 L53.1,91.6 L53.1,92.1 L53.1,92.6 L53.1,93.1 L53.1,93.6 L53.1,94.1 L53.1,94.6 L53.1,95.2 L53.2,95.7 L53.2,96.2 L53.2,96.7 L53.2,97.2 L53.2,97.7 L53.2,98.2 L53.2,98.7 L53.2,99.2 L53.2,99.7 L53.2,100.2 L53.3,100.8 L53.3,101.3 L53.3,101.8 L53.3,102.3 L53.3,102.8 L53.3,103.3 L53.3,103.8 L53.3,104.3 L53.3,104.8 L53.3,105.3 L53.3,105.9 L53.3,106.4 L53.4,106.9 L53.4,107.4 L53.4,107.9 L53.4,108.4 L53.4,108.9 L53.4,109.4 L53.4,109.9 L53.4,110.4 L53.4,110.9 L53.4,111.5 L53.4,112.0 L53.4,112.5 L53.4,113.0 L53.4,113.5 L53.4,114.0 L53.4,114.5 L53.4,115.0 L53.5,115.5 L53.5,116.0 L53.5,116.5 L53.5,117.1 L53.5,117.6 L53.5,118.1 L53.5,118.6 L53.5,119.1 L53.5,119.6 L53.5,120.1 L53.5,120.6 L53.5,121.1 L53.5,121.6 L53.5,122.2 L53.5,122.7 L53.5,123.2 L53.5,123.7 L53.5,124.2 L53.5,124.7 L53.5,125.2 L53.5,125.7 L53.5,126.2 L53.6,126.7 L53.6,127.2 L53.6,127.8 L53.6,128.3 L53.6,128.8 L53.6,129.3 L53.6,129.8 L53.6,130.3 L53.6,130.8 L53.6,131.3 L53.6,131.8 L53.6,132.3 L53.6,132.8 L53.7,133.3 L53.7,133.9 L53.7,134.4 L53.7,134.9 L53.7,135.4 L53.7,135.9 L53.8,136.4 L53.8,136.9 L53.8,137.4 L53.8,137.9 L53.9,138.4 L53.9,138.9 L53.9,139.5 L54.0,140.0 L54.0,140.5 L54.0,141.0 L54.1,141.5 L54.1,142.0 L54.2,142.5 L54.2,143.0 L54.3,143.5 L54.3,144.0 L54.4,144.5 L54.5,145.1 L54.5,145.6 L54.6,146.1 L54.6,146.6 L54.7,147.1 L54.7,147.6 L54.8,148.1 L54.8,148.6 L54.8,149.1 L54.9,149.6 L54.9,150.1 L54.9,150.6 L54.9,151.1 L55.0,151.6 L55.0,152.1 L55.1,152.6 L55.2,153.1 L55.4,153.6 L55.6,154.1 L56.0,154.6 L56.3,155.0 L56.7,155.2 L57.1,155.1 L57.5,154.9 L58.0,154.5 L58.4,154.0 L58.8,153.6 L59.2,153.2 L59.6,152.9 L59.9,152.6 L60.3,152.2 L60.6,151.9 L60.9,151.6 L61.3,151.2 L61.5,150.8 L61.8,150.4 L62.1,150.0 L62.4,149.5 L62.6,149.1 L62.9,148.6 L63.1,148.1 L63.4,147.7 L63.6,147.2" stroke="#ff4500" stroke-width="2.3" stroke-dasharray="6.9 2 1 2 1 2.2"/>
<path d="M51.3,14.2 L51.3,14.6 L51.3,15.1 L51.3,15.5 L51.3,16.0 L51.3,16.4 L51.3,16.8 L51.3,17.3 L51.3,17.7 L51.3,18.2 L51.3,18.6 L51.3,19.1 L51.3,19.5 L51.3,19.9 L51.3,20.4 L51.3,20.8 L51.3,21.3 L51.3,21.7 L51.3,22.1 L51.3,22.6 L51.3,23.0 L51.3,23.5 L51.3,23.9 L51.3,24.4 L51.3,24.8 L51.3,25.2 L51.3,25.7 L51.3,26.1 L51.3,26.6 L51.3,27.0 L51.3,27.4 L51.4,27.9 L51.4,28.3 L51.4,28.8 L51.4,29.2 L51.4,29.7 L51.4,30.1 L51.4,30.5 L51.4,31.0 L51.4,31.4 L51.4,31.9 L51.4,32.3 L51.4,32.7 L51.4,33.2 L51.4,33.6 L51.4,34.1 L51.4,34.5 L51.4,34.9 L51.4,35.4 L51.4,35.8 L51.4,36.3 L51.4,36.7 L51.4,37.2 L51.4,37.6 L51.4,38.0 L51.4,38.5 L51.4,38.9 L51.4,39.4 L51.4,39.8 L51.4,40.2 L51.4,40.7 L51.4,41.1 L51.4,41.6 L51.4,42.0 L51.4,42.5 L51.4,42.9 L51.4,43.3 L51.4,43.8 L51.4,44.2 L51.4,44.7 L51.4,45.1 L51.4,45.5 L51.4,46.0 L51.4,46.4 L51.4,46.9 L51.4,47.3 L51.4,47.8 L51.4,48.2 L51.4,48.6 L51.4,49.1 L51.5,49.5 L51.5,50.0 L51.5,50.4 L51.5,50.8 L51.5,51.3 L51.5,51.7 L51.5,52.2 L51.5,52.6 L51.5,53.1 L51.5,53.5 L51.5,53.9 L51.5,54.4 L51.5,54.8 L51.5,55.3 L51.5,55.7 L51.5,56.1 L51.5,56.6 L51.5,57.0 L51.5,57.5 L51.5,57.9 L51.5,58.3 L51.5,58.8 L51.5,59.2 L51.5,59.7 L51.5,60.1 L51.5,60.6 L51.5,61.0 L51.5,61.4 L51.5,61.9 L51.5,62.3 L51.5,62.8 L51.5,63.2 L51.5,63.6 L51.5,64.1 L51.6,64.5 L51.6,65.0 L51.6,65.4 L51.6,65.9 L51.6,66.3 L51.6,66.7 L51.6,67.2 L51.6,67.6 L51.6,68.1 L51.6,68.5 L51.6,68.9 L51.6,69.4 L51.6,69.8 L51.6,70.3 L51.6,70.7 L51.6,71.2 L51.6,71.6 L51.6,72.0 L51.6,72.5 L51.6,72.9 L51.6,73.4 L51.6,73.8 L51.6,74.2 L51.6,74.7 L51.6,75.1 L51.7,75.6 L51.7,76.0 L51.7,76.4 L51.7,76.9 L51.7,77.3 L51.7,77.8 L51.7,78.2 L51.7,78.7 L51.7,79.1 L51.7,79.5 L51.7,80.0 L51.7,80.4 L51.7,80.9 L51.7,81.3 L51.7,81.7 L51.7,82.2 L51.7,82.6 L51.7,83.1 L51.7,83.5 L51.7,84.0 L51.7,84.4 L51.7,84.8 L51.8,85.3 L51.8,85.7 L51.8,86.2 L51.8,86.6 L51.8,87.0 L51.8,87.5 L51.8,87.9 L51.8,88.4 L51.8,88.8 L51.8,89.3 L51.8,89.7 L51.8,90.1 L51.8,90.6 L51.8,91.0 L51.8,91.5 L51.8,91.9 L51.8,92.3 L51.8,92.8 L51.8,93.2 L51.8,93.7 L51.8,94.1 L51.8,94.5 L51.9,95.0 L51.9,95.4 L51.9,95.9 L51.9,96.3 L51.9,96.8 L51.9,97.2 L51.9,97.6 L51.9,98.1 L51.9,98.5 L51.9,99.0 L51.9,99.4 L51.9,99.8 L51.9,100.3 L51.9,100.7 L51.9,101.2 L51.9,101.6 L51.9,102.1 L51.9,102.5 L51.9,102.9 L51.9,103.4 L51.9,103.8 L51.9,104.3 L52.0,104.7 L52.0,105.1 L52.0,105.6 L52.0,106.0 L52.0,106.5 L52.0,106.9 L52.0,107.4 L52.0,107.8 L52.0,108.2 L52.0,108.7 L52.0,109.1 L52.0,109.6 L52.0,110.0 L52.0,110.4 L52.0,110.9 L52.0,111.3 L52.0,111.8 L52.0,112.2 L52.0,112.6 L52.0,113.1 L52.0,113.5 L52.0,114.0 L52.0,114.4 L52.0,114.9 L52.0,115.3 L52.0,115.7 L52.0,116.2 L52.0,116.6 L52.1,117.1 L52.1,117.5 L52.1,117.9 L52.1,118.4 L52.1,118.8 L52.1,119.3 L52.1,119.7 L52.1,120.2 L52.1,120.6 L52.1,121.0 L52.1,121.5 L52.1,121.9 L52.1,122.4 L52.1,122.8 L52.1,123.2 L52.1,123.7 L52.1,124.1 L52.1,124.6 L52.1,125.0 L52.1,125.5 L52.1,125.9 L52.1,126.3 L52.1,126.8 L52.1,127.2 L52.1,127.7 L52.1,128.1 L52.1,128.5 L52.1,129.0 L52.1,129.4 L52.1,129.9 L52.1,130.3 L52.1,130.7 L52.1,131.2 L52.1,131.6 L52.1,132.1 L52.1,132.5 L52.1,133.0 L52.1,133.4 L52.1,133.8 L52.1,134.3 L52.2,134.7 L52.2,135.2 L52.2,135.6 L52.2,136.0 L52.2,136.5 L52.2,136.9 L52.2,137.4 L52.2,137.8 L52.2,138.3 L52.2,138.7 L52.2,139.1 L52.2,139.6 L52.2,140.0 L52.2,140.5 L52.2,140.9 L52.2,141.3 L52.2,141.8 L52.2,142.2 L52.2,142.7 L52.2,143.1 L52.2,143.6 L52.2,144.0 L52.2,144.4 L52.2,144.9 L52.2,145.3 L52.2,145.8 L52.2,146.2" stroke="#ff00ff" stroke-width="1.5" stroke-dasharray="3.3 3 1.1 3.3"/>
<path d="M50.7,14.2 L50.7,14.7 L50.7,15.1 L50.7,15.6 L50.7,16.0 L50.7,16.5 L50.7,16.9 L50.7,17.4 L50.7,17.9 L50.7,18.3 L50.7,18.8 L50.7,19.2 L50.7,19.7 L50.7,20.2 L50.7,20.6 L50.7,21.1 L50.7,21.5 L50.7,22.0 L50.7,22.4 L50.7,22.9 L50.7,23.4 L50.7,23.8 L50.7,24.3 L50.7,24.7 L50.7,25.2 L50.7,25.7 L50.7,26.1 L50.7,26.6 L50.7,27.0 L50.7,27.5 L50.7,27.9 L50.7,28.4 L50.7,28.9 L50.7,29.3 L50.7,29.8 L50.7,30.2 L50.7,30.7 L50.7,31.2 L50.7,31.6 L50.7,32.1 L50.7,32.5 L50.7,33.0 L50.7,33.4 L50.7,33.9 L50.7,34.4 L50.7,34.8 L50.7,35.3 L50.7,35.7 L50.7,36.2 L50.7,36.7 L50.7,37.1 L50.7,37.6 L50.7,38.0 L50.7,38.5 L50.7,38.9 L50.7,39.4 L50.7,39.9 L50.7,40.3 L50.7,40.8 L50.7,41.2 L50.7,41.7 L50.7,42.1 L50.7,42.6 L50.7,43.1 L50.7,43.5 L50.7,44.0 L50.7,44.4 L50.7,44.9 L50.7,45.4 L50.7,45.8 L50.7,46.3 L50.7,46.7 L50.7,47.2 L50.7,47.6 L50.7,48.1 L50.7,48.6 L50.7,49.0 L50.7,49.5 L50.7,49.9 L50.7,50.4 L50.7,50.9 L50.7,51.3 L50.7,51.8 L50.7,52.2 L50.7,52.7 L50.7,53.1 L50.7,53.6 L50.7,54.1 L50.7,54.5 L50.7,55.0 L50.7,55.4 L50.7,55.9 L50.8,56.4 L50.8,56.8 L50.8,57.3 L50.8,57.7 L50.8,58.2 L50.8,58.6 L50.8,59.1 L50.8,59.6 L50.8,60.0 L50.8,60.5 L50.8,60.9 L50.8,61.4 L50.8,61.9 L50.8,62.3 L50.8,62.8 L50.8,63.2 L50.8,63.7 L50.8,64.1 L50.8,64.6 L50.8,65.1 L50.8,65.5 L50.8,66.0 L50.8,66.4 L50.8,66.9 L50.8,67.4 L50.8,67.8 L50.8,68.3 L50.8,68.7 L50.8,69.2 L50.8,69.6 L50.8,70.1 L50.8,70.6 L50.8,71.0 L50.8,71.5 L50.8,71.9 L50.8,72.4 L50.8,72.8 L50.8,73.3 L50.8,73.8 L50.8,74.2 L50.8,74.7 L50.8,75.1 L50.8,75.6 L50.8,76.1 L50.8,76.5 L50.8,77.0 L50.8,77.4 L50.8,77.9 L50.8,78.3 L50.8,78.8 L50.8,79.3 L50.8,79.7 L50.9,80.2 L50.9,80.6 L50.9,81.1 L50.9,81.6 L50.9,82.0 L50.9,82.5 L50.9,82.9 L50.9,83.4 L50.9,83.8 L50.9,84.3 L50.9,84.8 L50.9,85.2 L50.9,85.7 L50.9,86.1 L50.9,86.6 L50.9,87.1 L50.9,87.5 L50.9,88.0 L50.9,88.4 L50.9,88.9 L50.9,89.3 L50.9,89.8 L50.9,90.3 L50.9,90.7 L50.9,91.2 L50.9,91.6 L50.9,92.1 L50.9,92.6 L50.9,93.0 L50.9,93.5 L50.9,93.9 L50.9,94.4 L50.9,94.8 L50.9,95.3 L50.9,95.8 L50.9,96.2 L50.9,96.7 L50.9,97.1 L50.9,97.6 L50.9,98.0 L51.0,98.5 L51.0,99.0 L51.0,99.4 L51.0,99.9 L51.0,100.3 L51.0,100.8 L51.0,101.3 L51.0,101.7 L51.0,102.2 L51.0,102.6 L51.0,103.1 L51.0,103.5 L51.0,104.0 L51.0,104.5 L51.0,104.9 L51.0,105.4 L51.0,105.8 L51.0,106.3 L51.0,106.8 L51.0,107.2 L51.0,107.7 L51.0,108.1 L51.0,108.6 L51.0,109.0 L51.0,109.5 L51.0,110.0 L51.0,110.4 L51.0,110.9 L51.0,111.3 L51.0,111.8 L51.0,112.3 L51.0,112.7 L51.0,113.2 L51.0,113.6 L51.0,114.1 L51.0,114.5 L51.0,115.0 L51.0,115.5 L51.0,115.9 L51.0,116.4 L51.0,116.8 L51.0,117.3 L51.0,117.8 L51.0,118.2 L51.0,118.7 L51.0,119.1 L51.0,119.6 L51.0,120.0 L51.0,120.5 L51.0,121.0 L51.0,121.4 L51.0,121.9 L51.0,122.3 L51.0,122.8 L51.0,123.2 L51.0,123.7 L51.0,124.2 L51.0,124.6 L51.0,125.1 L51.0,125.5 L51.0,126.0 L51.0,126.5 L51.0,126.9 L51.0,127.4 L51.0,127.8 L51.0,128.3 L51.0,128.7 L51.0,129.2 L51.0,129.7 L51.0,130.1 L51.0,130.6 L51.0,131.0 L51.0,131.5 L51.0,132.0 L51.0,132.4 L51.0,132.9 L51.0,133.3 L51.0,133.8 L51.0,134.2 L51.0,134.7 L51.0,135.2 L51.0,135.6 L51.0,136.1 L51.0,136.5 L51.0,137.0 L51.0,137.5 L51.0,137.9 L51.0,138.4 L51.0,138.8 L51.0,139.3 L51.0,139.7 L51.0,140.2 L51.0,140.7 L51.0,141.1 L51.0,141.6 L51.0,142.0 L51.0,142.5 L51.0,143.0 L51.0,143.4 L51.0,143.9 L51.0,144.3 L51.0,144.8 L51.0,145.2 L51.0,145.7 L51.0,146.2 L51.0,146.6 L51.0,147.1 L51.0,147.5 L51.0,148.0 L51.0,148.5 L51.0,148.9 L51.0,149.4 L51.0,149.8 L51.0,150.3 L51.0,150.7 L51.0,151.2" stroke="#5a38ff" stroke-width="1.3"/>
<path d="M50.8,150.2 L50.8,150.4 L50.8,150.5 L50.8,150.7 L50.8,150.8 L50.8,151.0 L50.8,151.2 L50.8,151.3 L50.8,151.5 L50.8,151.6 L50.8,151.8 L50.8,152.0 L50.8,152.1 L50.8,152.3 L50.8,152.4 L50.8,152.6 L50.8,152.8 L50.8,152.9 L50.8,153.1 L50.8,153.3 L50.8,153.4 L50.8,153.6 L50.8,153.7 L50.8,153.9 L50.8,154.1 L50.8,154.2 L50.8,154.4 L50.8,154.5 L50.8,154.7 L50.8,154.9 L50.8,155.0 L50.8,155.2 L50.8,155.3 L50.8,155.5 L50.8,155.7 L50.8,155.8 L50.8,156.0 L50.8,156.1 L50.8,156.3 L50.8,156.5 L50.8,156.6 L50.8,156.8 L50.8,156.9 L50.8,157.1 L50.8,157.3 L50.8,157.4 L50.8,157.6 L50.8,157.7 L50.8,157.9 L50.8,158.1 L50.8,158.2 L50.8,158.4 L50.8,158.5 L50.8,158.7 L50.8,158.9 L50.8,159.0 L50.8,159.2 L50.8,159.4 L50.8,159.5 L50.8,159.7 L50.8,159.8 L50.8,160.0 L50.8,160.2 L50.8,160.3 L50.8,160.5 L50.8,160.6 L50.8,160.8 L50.8,161.0 L50.8,161.1 L50.8,161.3 L50.8,161.4 L50.8,161.6 L50.8,161.8 L50.8,161.9 L50.8,162.1 L50.8,162.2 L50.8,162.4 L50.8,162.6 L50.8,162.7 L50.8,162.9 L50.8,163.0 L50.8,163.2 L50.8,163.4 L50.8,163.5 L50.8,163.7 L50.8,163.8 L50.8,164.0 L50.8,164.2 L50.8,164.3 L50.8,164.5 L50.8,164.6 L50.8,164.8 L50.8,165.0 L50.8,165.1 L50.8,165.3 L50.8,165.5 L50.8,165.6 L50.8,165.8 L50.8,165.9 L50.8,166.1 L50.8,166.3 L50.8,166.4 L50.8,166.6 L50.8,166.7 L50.8,166.9 L50.8,167.1 L50.8,167.2 L50.8,167.4 L50.8,167.5 L50.8,167.7 L50.8,167.9 L50.8,168.0 L50.8,168.2 L50.8,168.3 L50.8,168.5 L50.8,168.7 L50.8,168.8 L50.8,169.0 L50.8,169.1 L50.8,169.3 L50.8,169.5 L50.8,169.6 L50.8,169.8 L50.8,169.9 L50.8,170.1 L50.8,170.3 L50.8,170.4 L50.8,170.6 L50.8,170.7 L50.8,170.9 L50.8,171.1 L50.8,171.2 L50.8,171.4 L50.8,171.6 L50.8,171.7 L50.8,171.9 L50.8,172.0 L50.8,172.2 L50.8,172.4 L50.8,172.5 L50.8,172.7 L50.8,172.8 L50.8,173.0 L50.8,173.2 L50.8,173.3 L50.8,173.5 L50.8,173.6 L50.8,173.8 L50.8,174.0 L50.8,174.1 L50.8,174.3 L50.8,174.4 L50.8,174.6 L50.8,174.8 L50.8,174.9 L50.8,175.1 L50.8,175.2 L50.8,175.4 L50.8,175.6 L50.8,175.7 L50.8,175.9 L50.8,176.0 L50.8,176.2 L50.8,176.4 L50.8,176.5 L50.8,176.7 L50.8,176.8 L50.8,177.0 L50.8,177.2 L50.8,177.3 L50.8,177.5 L50.8,177.7 L50.8,177.8 L50.8,178.0 L50.8,178.1 L50.8,178.3 L50.8,178.5 L50.8,178.6 L50.8,178.8 L50.8,178.9 L50.8,179.1 L50.8,179.3 L50.8,179.4 L50.8,179.6 L50.8,179.7 L50.8,179.9 L50.8,180.1 L50.8,180.2 L50.8,180.4 L50.8,180.5 L50.8,180.7 L50.8,180.9 L50.8,181.0 L50.8,181.2 L50.8,181.3 L50.8,181.5 L50.8,181.7 L50.8,181.8 L50.8,182.0 L50.8,182.1 L50.8,182.3 L50.8,182.5 L50.8,182.6 L50.8,182.8 L50.8,182.9 L50.8,183.1 L50.8,183.3 L50.8,183.4 L50.8,183.6 L50.8,183.8 L50.8,183.9 L50.8,184.1 L50.8,184.2 L50.8,184.4 L50.8,184.6 L50.8,184.7 L50.8,184.9 L50.8,185.0 L50.8,185.2 L50.8,185.4 L50.8,185.5 L50.8,185.7 L50.8,185.8 L50.8,186.0 L50.8,186.2 L50.8,186.3 L50.8,186.5 L50.8,186.6 L50.8,186.8 L50.8,187.0 L50.8,187.1 L50.8,187.3 L50.8,187.4 L50.8,187.6 L50.8,187.8 L50.8,187.9 L50.8,188.1 L50.8,188.2 L50.8,188.4 L50.8,188.6 L50.8,188.7 L50.8,188.9 L50.8,189.0 L50.8,189.2 L50.8,189.4 L50.8,189.5 L50.8,189.7 L50.8,189.9 L50.8,190.0 L50.8,190.2 L50.8,190.3 L50.8,190.5 L50.8,190.7 L50.8,190.8 L50.8,191.0 L50.8,191.1 L50.8,191.3 L50.8,191.5 L50.8,191.6 L50.8,191.8 L50.8,191.9 L50.8,192.1 L50.8,192.3 L50.8,192.4 L50.8,192.6 L50.8,192.7 L50.8,192.9 L50.8,193.1 L50.8,193.2 L50.8,193.4 L50.8,193.5 L50.8,193.7 L50.8,193.9 L50.8,194.0 L50.8,194.2 L50.8,194.3 L50.8,194.5 L50.8,194.7 L50.8,194.8 L50.8,195.0 L50.8,195.1 L50.8,195.3 L50.8,195.5 L50.8,195.6 L50.8,195.8 L50.8,196.0 L50.8,196.1 L50.8,196.3 L50.8,196.4 L50.8,196.6 L50.8,196.8 L50.8,196.9 L50.8,197.1 L50.8,197.2 L50.8,197.4 L50.8,197.6 L50.8,197.7 L50.8,197.9 L50.8,198.0 L50.8,198.2" stroke="#ff70ff" stroke-width="1.4" stroke-dasharray="1.3 1.6"/>
<path d="M81.1,122.3 L113.8,119.2 L146.5,123.9 L179.2,130.2 L211.9,134.0 L244.5,137.9 L277.2,141.6 L309.9,144.7 L342.6,147.3 L375.3,149.5" stroke="#ff0000" stroke-width="2.8"/>
</g>
<rect x="48.4" y="14.2" width="326.90000000000003" height="309.40000000000003" fill="none" stroke="#000" stroke-width="1.5"/>
<g font-family="Liberation Sans, sans-serif" font-size="13.3" fill="#000">
<text x="40.8" y="307.4" text-anchor="end">-0.4</text>
<text x="40.8" y="266.1" text-anchor="end">-0.2</text>
<text x="40.8" y="224.9" text-anchor="end">0</text>
<text x="40.8" y="183.6" text-anchor="end">0.2</text>
<text x="40.8" y="142.4" text-anchor="end">0.4</text>
<text x="40.8" y="101.1" text-anchor="end">0.6</text>
<text x="40.8" y="59.9" text-anchor="end">0.8</text>
<text x="40.8" y="18.6" text-anchor="end"><tspan class="one" visibility="hidden">1</tspan></text>
<text x="49.4" y="340.4" text-anchor="middle">0</text>
<text x="114.8" y="340.4" text-anchor="middle">0.2</text>
<text x="180.2" y="340.4" text-anchor="middle">0.4</text>
<text x="245.5" y="340.4" text-anchor="middle">0.6</text>
<text x="310.9" y="340.4" text-anchor="middle">0.8</text>
<text x="376.3" y="340.4" text-anchor="middle"><tspan class="one" visibility="hidden">1</tspan></text>
<text x="212.3" y="361.1" text-anchor="middle"><tspan font-style="italic">T</tspan><tspan dx="-0.6">/</tspan><tspan font-style="italic" dx="0.5">s</tspan><tspan font-size="10.6" dy="-5.4" dx="-1.4">2</tspan></text>
<text transform="translate(11,219) rotate(-90)" letter-spacing="-0.17">s <tspan font-family="Liberation Serif, serif">Γ</tspan><tspan font-style="italic" font-size="10.6" dy="2.6">h</tspan><tspan dy="-2.6" dx="-1.3"> = s/</tspan><tspan font-style="italic" dx="-0.3">T</tspan><tspan dx="1"> d</tspan><tspan font-style="italic" dx="0.3">T</tspan><tspan dx="-0.9">/d</tspan><tspan font-style="italic">h</tspan>|<tspan font-style="italic" font-size="10.6" dy="2.6">S</tspan></text>
<text x="161.1" y="179.0" text-anchor="end"><tspan font-style="italic" dx="0.75">s</tspan><tspan dx="-2.8">=<tspan class="one" visibility="hidden">1</tspan>/2, </tspan><tspan font-style="italic" dx="1.3">h</tspan><tspan dx="-3.35">=2.5</tspan></text>
<text x="161.1" y="191.8" text-anchor="end"><tspan font-style="italic" dx="0.75">s</tspan><tspan dx="-1.5">=<tspan class="one" visibility="hidden">1</tspan>, </tspan><tspan font-style="italic" dx="0.8">h</tspan><tspan dx="-2.85">=5</tspan></text>
<text x="161.1" y="204.5" text-anchor="end"><tspan font-style="italic" dx="0.75">s</tspan><tspan dx="-2.8">=3/2, </tspan><tspan font-style="italic" dx="1.3">h</tspan><tspan dx="-3.35">=7.5</tspan></text>
<text x="161.1" y="217.3" text-anchor="end"><tspan font-style="italic" dx="0.75">s</tspan><tspan dx="-1.5">=2, </tspan><tspan font-style="italic" dx="0.8">h</tspan><tspan dx="-2.85">=<tspan class="one" visibility="hidden">1</tspan>0</tspan></text>
<text x="161.1" y="230.1" text-anchor="end"><tspan font-style="italic" dx="0.75">s</tspan><tspan dx="-2.8">=5/2, </tspan><tspan font-style="italic" dx="1.3">h</tspan><tspan dx="-3.35">=<tspan class="one" visibility="hidden">1</tspan>2.5</tspan></text>
<text x="161.1" y="242.8" text-anchor="end"><tspan font-style="italic" dx="0.75">s</tspan><tspan dx="-1.5">=3, </tspan><tspan font-style="italic" dx="0.8">h</tspan><tspan dx="-2.85">=<tspan class="one" visibility="hidden">1</tspan>5</tspan></text>
<text x="161.1" y="255.6" text-anchor="end"><tspan font-style="italic" dx="0.75">s</tspan><tspan dx="-2.8">=7/2, </tspan><tspan font-style="italic" dx="1.3">h</tspan><tspan dx="-3.35">=<tspan class="one" visibility="hidden">1</tspan>7.5</tspan></text>
<text x="161.1" y="268.4" text-anchor="end"><tspan font-style="italic" dx="0.75">s</tspan><tspan dx="-1.5">=4, </tspan><tspan font-style="italic" dx="0.8">h</tspan><tspan dx="-2.85">=20</tspan></text>
<text x="161.1" y="281.2" text-anchor="end"><tspan font-style="italic" dx="0.75">s</tspan><tspan dx="-2.8">=9/2, </tspan><tspan font-style="italic" dx="1.3">h</tspan><tspan dx="-3.35">=22.5</tspan></text>
<text x="161.1" y="293.9" text-anchor="end"><tspan font-style="italic" dx="0.75">s</tspan><tspan dx="-1.5">=5, </tspan><tspan font-style="italic" dx="0.8">h</tspan><tspan dx="-2.85">=25</tspan></text>
<text x="161.1" y="306.7" text-anchor="end"><tspan letter-spacing="-0.28">classical, </tspan><tspan font-style="italic" dx="1.3">h</tspan><tspan dx="-3.35">=5</tspan></text>
</g>
<line x1="169.6" y1="174.9" x2="204" y2="174.9" stroke="#ff0000" stroke-width="1.7" stroke-dasharray="4.2 2.25"/>
<line x1="169.6" y1="187.7" x2="204" y2="187.7" stroke="#0000ff" stroke-width="2.0" stroke-dasharray="2.4 3.1"/>
<line x1="169.6" y1="200.4" x2="204" y2="200.4" stroke="#ff30ff" stroke-width="1.3" stroke-dasharray="1.2 1.5"/>
<line x1="169.6" y1="213.2" x2="204" y2="213.2" stroke="#00e800" stroke-width="1.0" stroke-dasharray="6.6 2 1.2 1.9"/>
<line x1="169.6" y1="226.0" x2="204" y2="226.0" stroke="#ffff00" stroke-width="2.5" stroke-dasharray="4.2 2.25"/>
<line x1="169.6" y1="238.8" x2="204" y2="238.8" stroke="#000000" stroke-width="1.9" stroke-dasharray="2.2 2.3 2.2 6.1"/>
<line x1="169.6" y1="251.5" x2="204" y2="251.5" stroke="#ff4500" stroke-width="2.3" stroke-dasharray="6.9 2 1 2 1 2.2" stroke-dashoffset="11.9"/>
<line x1="169.6" y1="264.3" x2="204" y2="264.3" stroke="#999999" stroke-width="1" stroke-dasharray="2.3 2 2.3 2 2.3 2 2.3 4"/>
<line x1="169.6" y1="277.1" x2="204" y2="277.1" stroke="#ff00ff" stroke-width="1.9" stroke-dasharray="3.3 3 1.1 3.3"/>
<line x1="169.6" y1="289.8" x2="204" y2="289.8" stroke="#8c8cff" stroke-width="1.9"/>
<line x1="169.6" y1="302.6" x2="204" y2="302.6" stroke="#ff0000" stroke-width="2.8"/>
<path transform="translate(33.39,18.60) scale(0.006494,-0.006494)" d="M763 0H583V1147Q518 1085 412.5 1023T223 930V1104Q371 1174 482 1273T639 1466H763Z" fill="#000"/>
<path transform="translate(372.60,340.40) scale(0.006494,-0.006494)" d="M763 0H583V1147Q518 1085 412.5 1023T223 930V1104Q371 1174 482 1273T639 1466H763Z" fill="#000"/>
<path transform="translate(104.35,179.00) scale(0.006494,-0.006494)" d="M763 0H583V1147Q518 1085 412.5 1023T223 930V1104Q371 1174 482 1273T639 1466H763Z" fill="#000"/>
<path transform="translate(126.53,191.80) scale(0.006494,-0.006494)" d="M763 0H583V1147Q518 1085 412.5 1023T223 930V1104Q371 1174 482 1273T639 1466H763Z" fill="#000"/>
<path transform="translate(147.04,217.30) scale(0.006494,-0.006494)" d="M763 0H583V1147Q518 1085 412.5 1023T223 930V1104Q371 1174 482 1273T639 1466H763Z" fill="#000"/>
<path transform="translate(135.94,230.10) scale(0.006494,-0.006494)" d="M763 0H583V1147Q518 1085 412.5 1023T223 930V1104Q371 1174 482 1273T639 1466H763Z" fill="#000"/>
<path transform="translate(147.04,242.80) scale(0.006494,-0.006494)" d="M763 0H583V1147Q518 1085 412.5 1023T223 930V1104Q371 1174 482 1273T639 1466H763Z" fill="#000"/>
<path transform="translate(135.94,255.60) scale(0.006494,-0.006494)" d="M763 0H583V1147Q518 1085 412.5 1023T223 930V1104Q371 1174 482 1273T639 1466H763Z" fill="#000"/>
</svg>
</body></html>
